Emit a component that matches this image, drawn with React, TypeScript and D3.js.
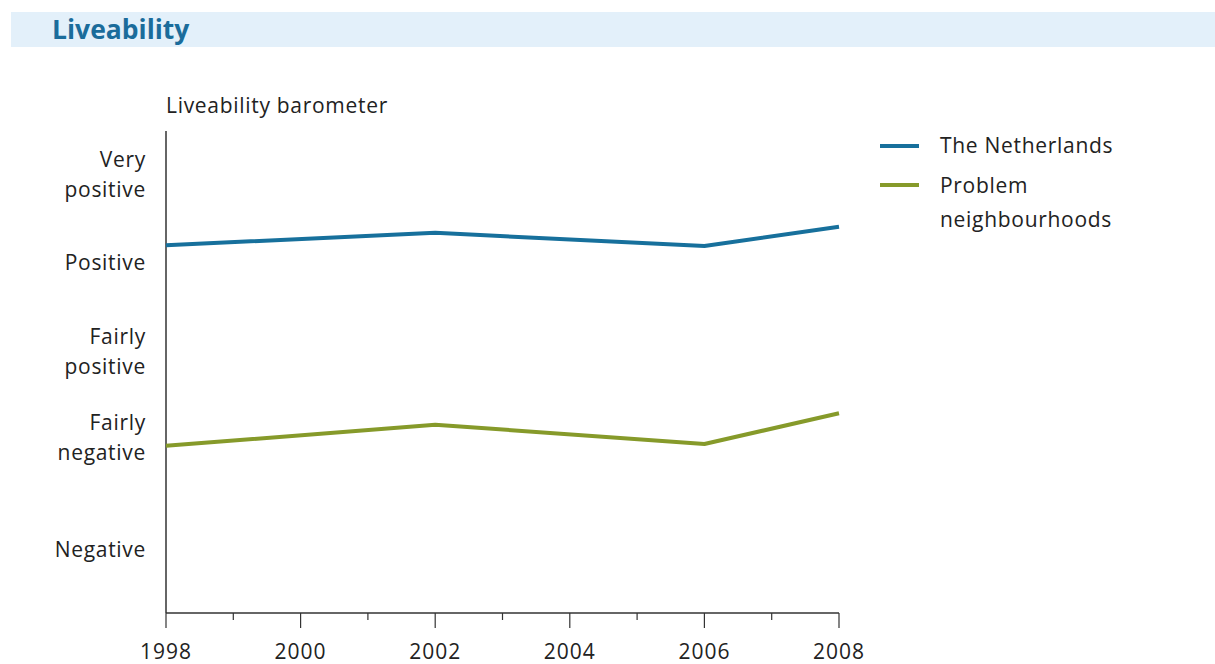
import React from "react";
import * as d3 from "d3";

// Survey years and barometer scores per series
const years = [1998, 2002, 2006, 2008];
const netherlands = [4.18, 4.32, 4.17, 4.39];
const problemNeighbourhoods = [1.90, 2.14, 1.92, 2.27];

// Verbal scale labels placed at their barometer score
const levelLabels = [
  { lines: ["Very", "positive"], value: 4.98 },
  { lines: ["Positive"], value: 3.98 },
  { lines: ["Fairly", "positive"], value: 2.97 },
  { lines: ["Fairly", "negative"], value: 1.99 },
  { lines: ["Negative"], value: 0.72 },
];

const xTicks = d3.range(1998, 2009, 1);
const xLabels = [1998, 2000, 2002, 2004, 2006, 2008];

const seriesNames = ["The Netherlands", "Problem neighbourhoods"];
const seriesColors = ["#17709c", "#869a2a"];

const FONT = "'Open Sans', 'Noto Sans', sans-serif";
const LS = 0.7;

export default function App() {
  const width = 1215;
  const height = 664;
  const left = 166;
  const right = 839;
  const top = 129;
  const bottom = 613;

  const x = d3.scaleLinear().domain([1998, 2008]).range([left, right]);
  const y = d3.scaleLinear().domain([0, 5.5]).range([bottom, top]);

  const line = d3
    .line<number>()
    .x((_, i) => x(years[i]))
    .y((d) => y(d));

  const series = [netherlands, problemNeighbourhoods];

  return (
    <svg
      width={width}
      height={height}
      style={{ position: "absolute", left: 0, top: 0, background: "#fff" }}
    >
      {/* header band */}
      <rect x={11} y={12} width={width - 11} height={35} fill="#e3f0fa" />
      <text
        x={52}
        y={39}
        fontFamily={FONT}
        fontWeight={700}
        fontSize={26.5}
        fill="#1a6c9b"
      >
        Liveability
      </text>

      <text
        x={166}
        y={113}
        fontFamily={FONT}
        fontSize={21}
        letterSpacing={LS}
        fill="#222"
      >
        Liveability barometer
      </text>

      {/* y scale labels */}
      {levelLabels.map((l, i) => {
        const cy = y(l.value);
        const lh = 30;
        const startY = cy - ((l.lines.length - 1) * lh) / 2;
        return (
          <text
            key={i}
            x={146}
            textAnchor="end"
            fontFamily={FONT}
            fontSize={21}
            letterSpacing={LS}
            fill="#222"
          >
            {l.lines.map((t, j) => (
              <tspan key={j} x={146} y={startY + j * lh + 7}>
                {t}
              </tspan>
            ))}
          </text>
        );
      })}

      {/* axes */}
      <line x1={left} x2={left} y1={131} y2={bottom} stroke="#333" strokeWidth={1.5} />
      <line x1={left} x2={right} y1={bottom} y2={bottom} stroke="#333" strokeWidth={1.5} />
      {xTicks.map((t) => {
        const major = (t - 1998) % 2 === 0;
        return (
          <line
            key={t}
            x1={x(t)}
            x2={x(t)}
            y1={bottom}
            y2={major ? 628 : 620}
            stroke="#333"
            strokeWidth={1.2}
          />
        );
      })}
      {xLabels.map((t) => (
        <text
          key={t}
          x={x(t)}
          y={659}
          textAnchor="middle"
          fontFamily={FONT}
          fontSize={21}
          letterSpacing={1}
          fill="#222"
        >
          {t}
        </text>
      ))}

      {/* series lines */}
      {series.map((s, i) => (
        <path
          key={i}
          d={line(s) ?? ""}
          fill="none"
          stroke={seriesColors[i]}
          strokeWidth={4}
          strokeLinejoin="round"
        />
      ))}

      {/* legend */}
      <line x1={880} x2={919} y1={146} y2={146} stroke={seriesColors[0]} strokeWidth={4} />
      <text x={940} y={153} fontFamily={FONT} fontSize={21} letterSpacing={LS} fill="#222">
        {seriesNames[0]}
      </text>
      <line x1={880} x2={919} y1={185} y2={185} stroke={seriesColors[1]} strokeWidth={4} />
      <text fontFamily={FONT} fontSize={21} letterSpacing={LS} fill="#222">
        <tspan x={940} y={193}>Problem</tspan>
        <tspan x={940} y={227}>neighbourhoods</tspan>
      </text>
    </svg>
  );
}
